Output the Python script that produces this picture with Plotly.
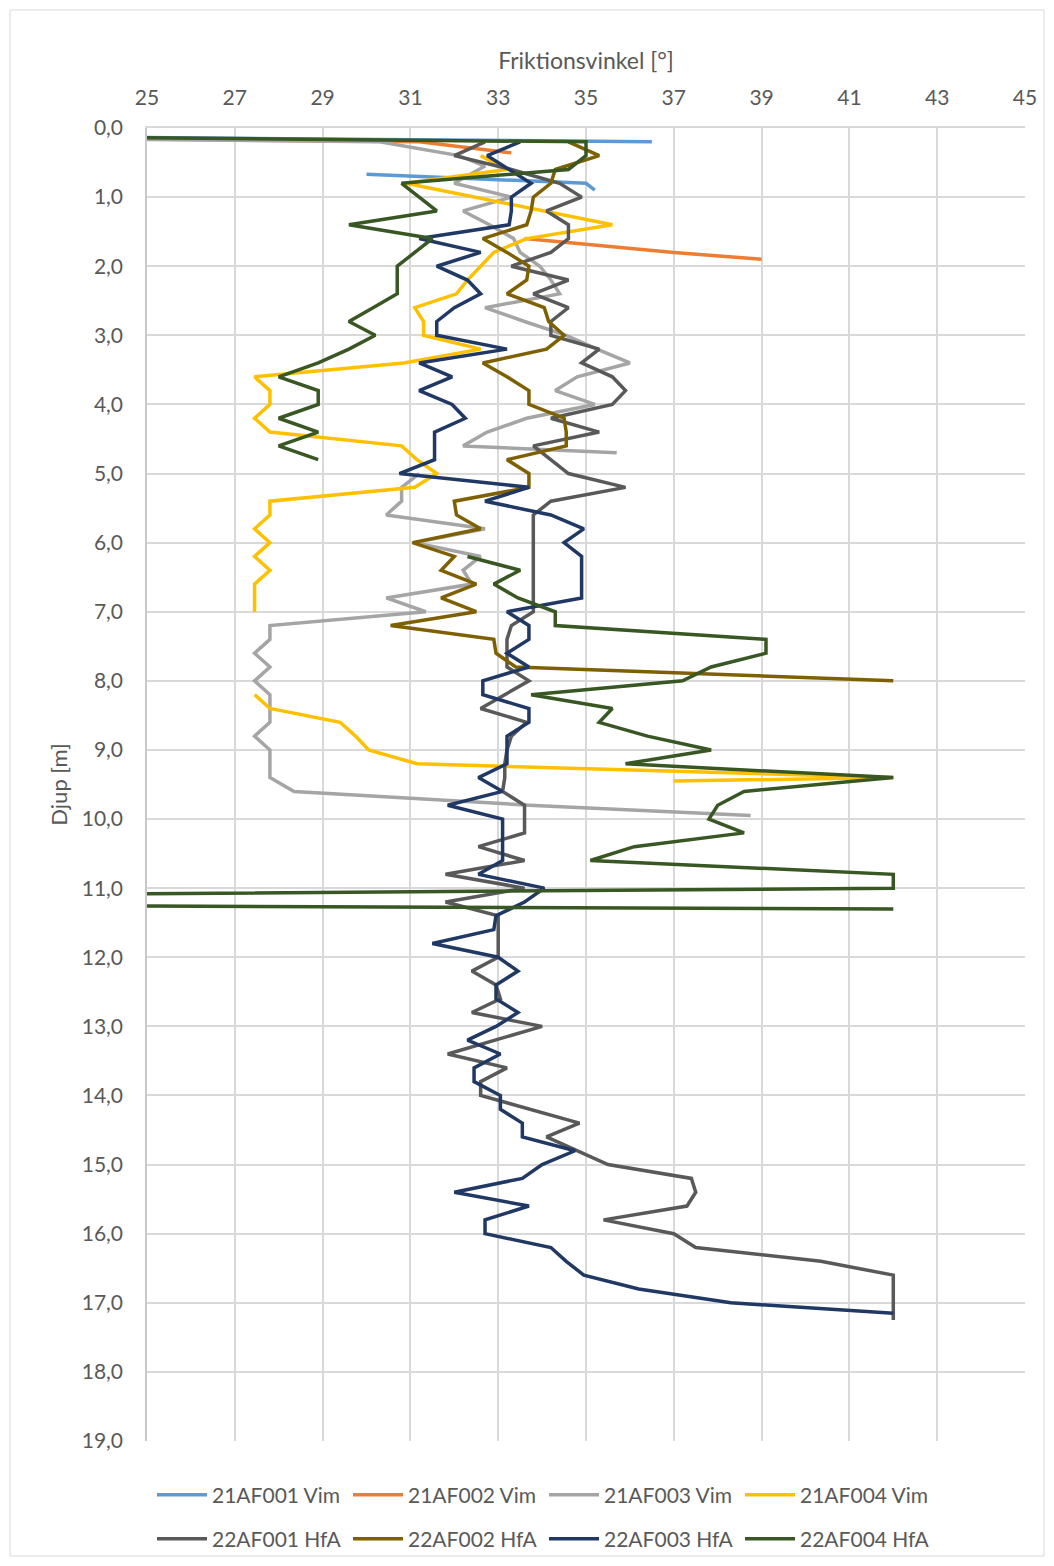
import plotly.graph_objects as go

# Friction angle [deg] versus depth [m]; None marks a break in a profile.
af001_vim_depth = [0.0, 0.2, None, 0.67, 0.8, 0.9]
af001_vim_angle = [0, 36.5, None, 30.0, 35.0, 35.2]

af002_vim_depth = [0.0, 0.2, 0.36, None, 1.6, 1.8, 1.9]
af002_vim_angle = [0, 31.2, 33.3, None, 33.6, 37.0, 39.0]

af003_vim_depth = [0.0, 0.2, 0.4, 0.55, 0.8, 1.0, 1.2, 1.4, 1.6, 1.8, 2.0, 2.2, 2.4, 2.6, 2.8,
                   3.0, 3.2, 3.4, 3.6, 3.8, 4.0, 4.2, 4.4, 4.6, 4.7, None,
                   5.0, 5.2, 5.4, 5.6, 5.8, 6.0, 6.2, 6.4, 6.6, 6.8, 7.0, 7.2, 7.4, 7.6, 7.8,
                   8.0, 8.2, 8.4, 8.6, 8.8, 9.0, 9.2, 9.4, 9.6, 9.8, 9.95]
af003_vim_angle = [0, 30.3, 32.1, 32.7, 32.0, 33.3, 32.2, 32.8, 33.35, 33.5, 33.95, 34.2, 34.4, 32.7, 33.6,
                   34.55, 35.25, 36.0, 34.8, 34.3, 35.2, 33.65, 32.75, 32.2, 35.7, None,
                   31.2, 30.8, 30.8, 30.45, 32.7, 31.1, 32.6, 32.2, 32.4, 30.45, 31.35, 27.8, 27.8, 27.45, 27.8,
                   27.45, 27.8, 27.8, 27.8, 27.45, 27.8, 27.8, 27.8, 28.35, 33.7, 38.75]

af004_vim_depth = [0.4, 0.6, 0.8, 1.0, 1.2, 1.4, 1.6, 1.8, 2.0, 2.2, 2.4, 2.6, 2.8, 3.0, 3.2, 3.4,
                   3.6, 3.8, 4.0, 4.2, 4.4, 4.6, 4.8, 5.0, 5.2, 5.4, 5.6, 5.8, 6.0, 6.2, 6.4, 6.6,
                   6.8, 7.0, None, 8.2, 8.4, 8.6, 8.8, 9.0, 9.2, 9.4, 9.45]
af004_vim_angle = [32.6, 33.2, 30.9, 32.5, 34.1, 35.6, 33.65, 32.9, 32.6, 32.3, 32.05, 31.1, 31.3, 31.3, 32.6, 30.85,
                   27.45, 27.8, 27.8, 27.45, 27.8, 30.8, 31.15, 31.6, 31.1, 27.8, 27.8, 27.45, 27.8, 27.45, 27.8, 27.45,
                   27.45, 27.45, None, 27.45, 27.8, 29.4, 29.75, 30.05, 31.15, 42.0, 37.0]

af001_hfa_depth = [0.2, 0.4, 0.6, 0.8, 1.0, 1.2, 1.4, 1.6, 1.8, 2.0, 2.2, 2.4, 2.6, 2.8, 3.0, 3.2,
                   3.4, 3.6, 3.8, 4.0, 4.2, 4.4, 4.6, 4.8, 5.0, 5.2, 5.4, 5.6, 5.8, 6.0, 6.2, 6.4,
                   6.6, 6.8, 7.0, 7.2, 7.4, 7.6, 7.8, 8.0, 8.2, 8.4, 8.6, 8.8, 9.0, 9.2, 9.4, 9.6,
                   9.8, 10.0, 10.2, 10.4, 10.6, 10.8, 11.0, 11.2, 11.4, 11.6, 11.8, 12.0, 12.2, 12.4,
                   12.6, 12.8, 13.0, 13.2, 13.4, 13.6, 13.8, 14.0, 14.2, 14.4, 14.6, 14.8, 15.0, 15.2,
                   15.4, 15.6, 15.8, 16.0, 16.2, 16.4, 16.6, 16.8, 17.0, 17.25]
af001_hfa_angle = [32.7, 32.0, 33.3, 34.4, 34.9, 34.1, 34.6, 34.6, 34.2, 33.3, 34.6, 33.8, 34.6, 34.2, 34.2, 35.3,
                   34.9, 35.6, 35.9, 35.6, 34.2, 35.3, 33.8, 34.2, 34.6, 35.9, 34.2, 33.8, 33.8, 33.8, 33.8, 33.8,
                   33.8, 33.8, 33.8, 33.3, 33.2, 33.2, 33.2, 33.7, 33.15, 32.6, 33.65, 33.3, 33.2, 33.15, 33.15, 33.1,
                   33.6, 33.6, 33.6, 32.55, 33.6, 31.8, 33.6, 31.8, 33.0, 33.0, 33.0, 33.0, 32.4, 32.95,
                   33.05, 32.4, 34.0, 32.9, 31.85, 33.2, 32.6, 32.6, 33.7, 34.85, 34.1, 34.8, 35.5, 37.4,
                   37.5, 37.3, 35.4, 37.0, 37.5, 40.35, 42.0, 42.0, 42.0, 42.0]

af002_hfa_depth = [0.2, 0.4, 0.6, 0.8, 1.0, 1.2, 1.4, 1.6, 1.8, 2.0, 2.2, 2.4, 2.6, 2.8, 3.0, 3.2,
                   3.4, 3.6, 3.8, 4.0, 4.2, 4.4, 4.6, 4.8, 5.0, 5.2, 5.4, 5.6, 5.8, 6.0, 6.2, 6.4,
                   6.6, 6.8, 7.0, 7.2, 7.4, 7.6, 7.8, 8.0]
af002_hfa_angle = [34.6, 35.3, 34.3, 34.2, 33.8, 33.75, 33.65, 32.65, 33.2, 33.7, 33.65, 33.2, 34.05, 34.15, 34.5, 34.1,
                   32.65, 33.2, 33.7, 33.7, 34.5, 34.55, 34.55, 33.2, 33.7, 33.7, 32.0, 32.05, 32.6, 31.05, 32.0, 31.7,
                   32.5, 31.7, 32.5, 30.55, 32.9, 32.95, 33.4, 42.0]

af003_hfa_depth = [0.2, 0.4, 0.6, 0.8, 1.0, 1.2, 1.4, 1.6, 1.8, 2.0, 2.2, 2.4, 2.6, 2.8, 3.0, 3.2,
                   3.4, 3.6, 3.8, 4.0, 4.2, 4.4, 4.6, 4.8, 5.0, 5.2, 5.4, 5.6, 5.8, 6.0, 6.2, 6.4,
                   6.6, 6.8, 7.0, 7.2, 7.4, 7.6, 7.8, 8.0, 8.2, 8.4, 8.6, 8.8, 9.0, 9.2, 9.4, 9.6,
                   9.8, 10.0, 10.2, 10.4, 10.6, 10.8, 11.0, 11.2, 11.4, 11.6, 11.8, 12.0, 12.2, 12.4,
                   12.6, 12.8, 13.0, 13.2, 13.4, 13.6, 13.8, 14.0, 14.2, 14.4, 14.6, 14.8, 15.0, 15.2,
                   15.4, 15.6, 15.8, 16.0, 16.2, 16.4, 16.6, 16.8, 17.0, 17.15]
af003_hfa_angle = [33.5, 32.75, 33.25, 33.75, 33.3, 33.3, 33.25, 31.2, 32.6, 31.6, 32.3, 32.6, 32.0, 31.6, 31.6, 33.2,
                   31.2, 31.95, 31.2, 31.95, 32.25, 31.55, 31.55, 31.55, 30.75, 33.7, 32.7, 34.2, 34.95, 34.5, 34.9, 34.9,
                   34.9, 34.9, 33.2, 33.7, 33.7, 33.2, 33.7, 32.65, 32.65, 33.7, 33.7, 33.2, 33.2, 33.2, 32.55, 33.1,
                   31.85, 33.1, 33.1, 33.1, 33.1, 32.55, 34.05, 33.6, 32.95, 32.9, 31.5, 33.0, 33.45, 32.95,
                   32.95, 33.45, 32.95, 32.3, 33.05, 32.45, 32.45, 33.05, 33.05, 33.55, 33.55, 34.75, 34.0, 33.55,
                   32.0, 33.7, 32.7, 32.7, 34.2, 34.55, 34.95, 36.2, 38.3, 42.0]

af004_hfa_depth = [0.0, 0.2, 0.4, 0.6, 0.8, 1.0, 1.2, 1.4, 1.6, 1.8, 2.0, 2.2, 2.4, 2.6, 2.8, 3.0,
                   3.2, 3.4, 3.6, 3.8, 4.0, 4.2, 4.4, 4.6, 4.8, None,
                   6.2, 6.4, 6.6, 6.8, 7.0, 7.2, 7.4, 7.6, 7.8, 8.0, 8.2, 8.4, 8.6, 8.8, 9.0, 9.2,
                   9.4, 9.6, 9.8, 10.0, 10.2, 10.4, 10.6, 10.8, 11.0, 11.2, 11.3]
af004_hfa_angle = [0, 35.0, 35.0, 34.6, 30.8, 31.2, 31.6, 29.6, 31.5, 31.1, 30.7, 30.7, 30.7, 30.15, 29.6, 30.2,
                   29.6, 28.9, 28.0, 28.9, 28.9, 28.0, 28.9, 28.0, 28.9, None,
                   32.3, 33.5, 32.9, 33.45, 34.3, 34.3, 39.1, 39.1, 37.85, 37.2, 33.75, 35.6, 35.3, 36.4, 37.85, 35.9,
                   42.0, 38.6, 38.0, 37.8, 38.6, 36.1, 35.1, 42.0, 42.0, 0, 42.0]

series = [
    ("21AF001 Vim", af001_vim_angle, af001_vim_depth, "#5B9BD5", "legend"),
    ("21AF002 Vim", af002_vim_angle, af002_vim_depth, "#ED7D31", "legend"),
    ("21AF003 Vim", af003_vim_angle, af003_vim_depth, "#A5A5A5", "legend"),
    ("21AF004 Vim", af004_vim_angle, af004_vim_depth, "#FFC000", "legend"),
    ("22AF001 HfA", af001_hfa_angle, af001_hfa_depth, "#595959", "legend2"),
    ("22AF002 HfA", af002_hfa_angle, af002_hfa_depth, "#7F6000", "legend2"),
    ("22AF003 HfA", af003_hfa_angle, af003_hfa_depth, "#203864", "legend2"),
    ("22AF004 HfA", af004_hfa_angle, af004_hfa_depth, "#385723", "legend2"),
]

x_ticks = [25, 27, 29, 31, 33, 35, 37, 39, 41, 43, 45]
y_ticks = [0, 1, 2, 3, 4, 5, 6, 7, 8, 9, 10, 11, 12, 13, 14, 15, 16, 17, 18, 19]

FONT = "Lato"
TXT = "#595959"
GRID = "#d9d9d9"

fig = go.Figure()
for name, ang, dep, col, leg in series:
    fig.add_trace(go.Scatter(
        x=ang, y=dep, name=name, mode="lines", connectgaps=False,
        line=dict(color=col, width=3.5), legend=leg,
    ))

W, H = 1054, 1566
ml, mr, mt, mb = 147, 29, 128, 125
pw, ph = W - ml - mr, H - mt - mb


def px_to_paper(px, py):
    return (px - ml) / pw, (H - mb - py) / ph


bx0, by0 = px_to_paper(10, 1556)
bx1, by1 = px_to_paper(1044, 10)

leg_common = dict(
    orientation="h", font=dict(family=FONT, size=21, color=TXT),
    bgcolor="rgba(0,0,0,0)", xanchor="left", yanchor="middle",
    entrywidth=131, entrywidthmode="pixels", itemwidth=50, tracegroupgap=0,
)
lx, ly1 = px_to_paper(152, 1495)
_, ly2 = px_to_paper(152, 1539)

fig.update_layout(
    width=W, height=H,
    margin=dict(l=ml, r=mr, t=mt, b=mb, pad=0, autoexpand=False),
    paper_bgcolor="white", plot_bgcolor="white",
    separators=",.",
    font=dict(family=FONT, size=21, color=TXT),
    showlegend=True,
    legend=dict(x=lx, y=ly1, **leg_common),
    legend2=dict(x=lx, y=ly2, **leg_common),
    xaxis=dict(
        side="top", range=[25, 45], tickvals=x_ticks, ticks="",
        showgrid=True, gridcolor=GRID, gridwidth=1.5,
        showline=True, linecolor=GRID, linewidth=1.5, mirror=False,
        zeroline=False, ticklabelstandoff=13,
        tickfont=dict(family=FONT, size=21, color=TXT),
        title=dict(text="Friktionsvinkel [°]", font=dict(family=FONT, size=23, color=TXT), standoff=8),
    ),
    yaxis=dict(
        range=[19, 0], tickvals=y_ticks, tickformat=".1f", ticks="",
        showgrid=True, gridcolor=GRID, gridwidth=1.5,
        showline=True, linecolor="#c8c8c8", linewidth=1.5,
        zeroline=False, ticklabelstandoff=18,
        tickfont=dict(family=FONT, size=21, color=TXT),
        title=dict(text="Djup [m]", font=dict(family=FONT, size=22, color=TXT), standoff=8),
    ),
    shapes=[dict(type="rect", xref="paper", yref="paper", x0=bx0, x1=bx1, y0=by0, y1=by1,
                 line=dict(color="#d9d9d9", width=1), fillcolor="rgba(0,0,0,0)", layer="below")],
)

fig.write_html("out.html")
